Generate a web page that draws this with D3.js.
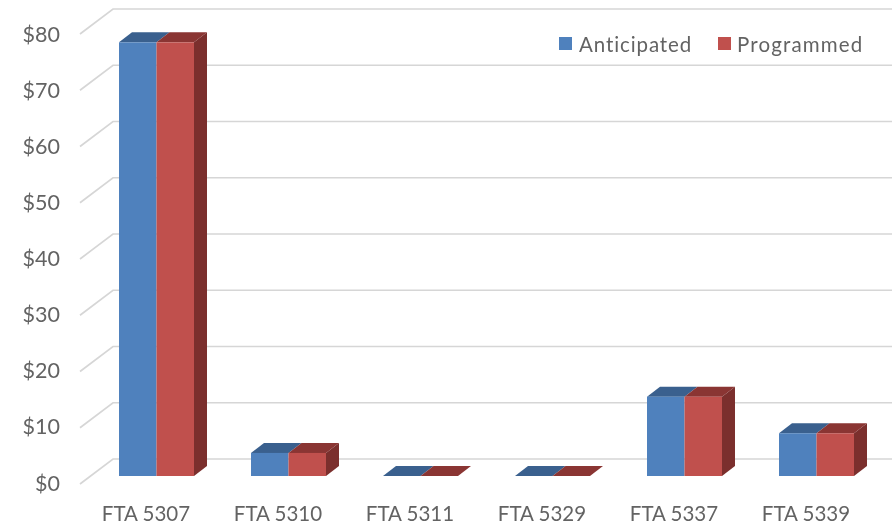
<!DOCTYPE html>
<html>
<head>
<meta charset="utf-8">
<script src="https://cdn.jsdelivr.net/npm/d3@7"></script>
<style>
html,body{margin:0;padding:0;background:#fff;}
svg{display:block;}
text{font-family:Lato,"Open Sans",sans-serif;fill:#636363;}
</style>
</head>
<body>
<div id="chart"></div>
<script>
const categories = ["FTA 5307","FTA 5310","FTA 5311","FTA 5329","FTA 5337","FTA 5339"];
const seriesNames = ["Anticipated","Programmed"];
const anticipated = [77.1,4.1,0,0,14.1,7.6];
const programmed = [77.1,4.1,0,0,14.1,7.6];
const yTicks = [0,10,20,30,40,50,60,70,80];

const W=892,H=525;
const svg=d3.select("#chart").append("svg").attr("width",W).attr("height",H).attr("viewBox",`0 0 ${W} ${H}`);
const root=svg.append("g").style("filter","blur(0.5px)");

const x=d3.scaleBand().domain(categories).range([80,872]).paddingInner(0).paddingOuter(0);
const y=d3.scaleLinear().domain([0,80]).range([484,34]);
const yLabel=d3.scaleLinear().domain([0,80]).range([482.5,34]);

// 3D projection offsets
const wall={dx:33,dy:-25};      // front plane to back wall
const barOff={dx:10.5,dy:-8};   // front plane to bar front
const depth={dx:13,dy:-10};     // bar depth
const halfW=37.5;               // width of one bar

const colors={
  front:["#4F81BD","#C0504D"],
  top:["#3A608E","#8A3533"],
  side:["#3A608E","#7B2F2D"]
};

// Gridlines: slanted floor/side segment plus back wall line
const grid=root.append("g").attr("fill","none").attr("stroke","#D6D6D6").attr("stroke-width",1.7);
grid.selectAll("path").data(yTicks).join("path")
  .attr("d",d=>`M${x.range()[0]},${y(d)}L${x.range()[0]+wall.dx},${y(d)+wall.dy}L${W},${y(d)+wall.dy}`);

// Y axis labels
root.append("g").selectAll("text").data(yTicks).join("text")
  .attr("x",60).attr("y",d=>yLabel(d)).attr("text-anchor","end")
  .attr("dominant-baseline","central").attr("font-size",21.5)
  .text(d=>"$"+d);

// X axis labels
root.append("g").selectAll("text").data(categories).join("text")
  .attr("x",d=>x(d)+x.bandwidth()/2).attr("y",513).attr("text-anchor","middle")
  .attr("dominant-baseline","central").attr("font-size",20.5)
  .text(d=>d);

// Bars
const rows=categories.map((c,i)=>({c,vals:[anticipated[i],programmed[i]]}));
const groups=root.append("g").selectAll("g").data(rows).join("g");
groups.each(function(r){
  const g=d3.select(this);
  const cx=x(r.c)+x.bandwidth()/2+barOff.dx;
  const yb=y(0)+barOff.dy;
  r.vals.forEach((v,s)=>{
    const x0=cx-halfW+s*halfW, x1=x0+halfW;
    const yt=y(v)+barOff.dy;
    g.append("path").attr("fill",colors.top[s])
      .attr("d",`M${x0},${yt}L${x0+depth.dx},${yt+depth.dy}L${x1+depth.dx},${yt+depth.dy}L${x1},${yt}Z`);
  });
  r.vals.forEach((v,s)=>{
    const x0=cx-halfW+s*halfW, x1=x0+halfW;
    const yt=y(v)+barOff.dy;
    if(s===1){
      g.append("path").attr("fill",colors.side[s])
        .attr("d",`M${x1},${yt}L${x1+depth.dx},${yt+depth.dy}L${x1+depth.dx},${yb+depth.dy}L${x1},${yb}Z`);
    }
    g.append("rect").attr("x",x0).attr("y",yt).attr("width",halfW).attr("height",yb-yt).attr("fill",colors.front[s]);
  });
});

// Legend
const legendPos=[{sx:559,tx:579,ls:0.9},{sx:718,tx:737,ls:1.15}];
const legend=root.append("g").selectAll("g").data(seriesNames).join("g");
legend.append("rect").attr("x",(d,i)=>legendPos[i].sx).attr("y",37).attr("width",13).attr("height",13)
  .attr("fill",(d,i)=>colors.front[i]);
legend.append("text").attr("x",(d,i)=>legendPos[i].tx).attr("y",44)
  .attr("dominant-baseline","central").attr("font-size",20.5).attr("letter-spacing",(d,i)=>legendPos[i].ls)
  .text(d=>d);
</script>
</body>
</html>
